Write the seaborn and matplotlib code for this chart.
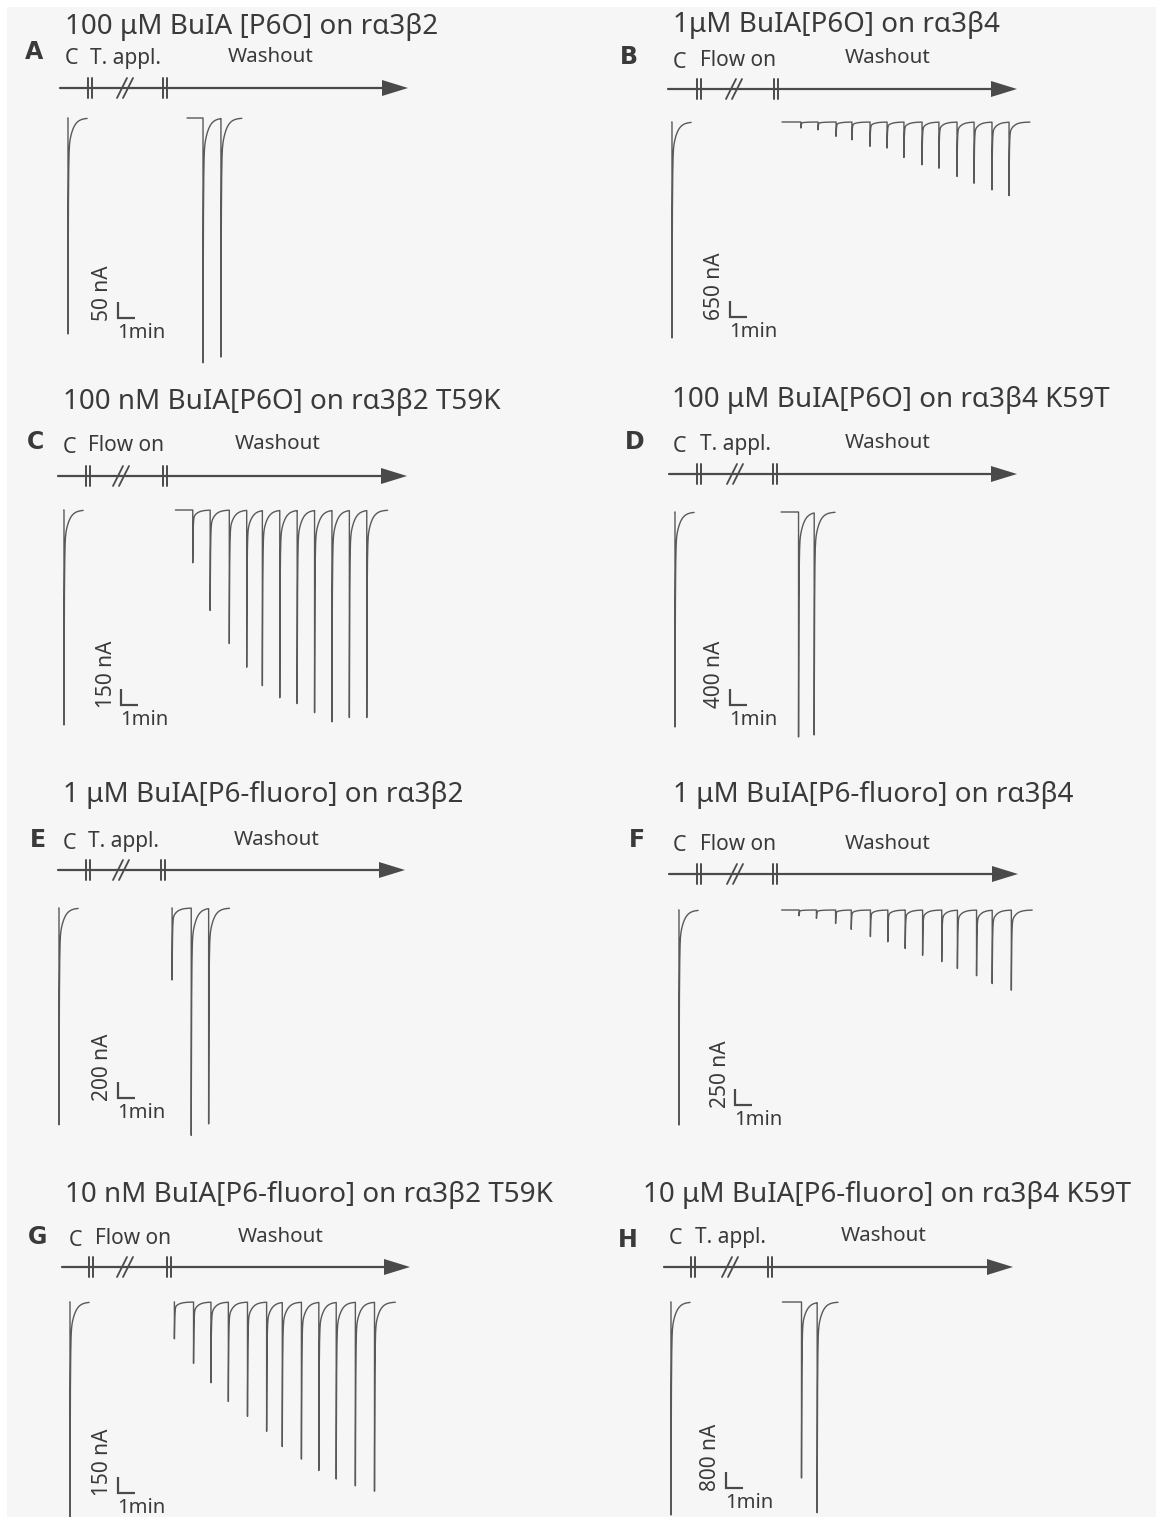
import numpy as np
import pandas as pd
import matplotlib
matplotlib.use("Agg")
import matplotlib.pyplot as plt
import seaborn as sns
from matplotlib.patches import Polygon, Rectangle

sns.set_theme(style="white")
plt.rcParams['font.family'] = ['Noto Sans', 'DejaVu Sans']

# ---------------- data ----------------
panel_letters = ['A', 'B', 'C', 'D', 'E', 'F', 'G', 'H']
titles = [
    "100 μM BuIA [P6O] on rα3β2",
    "1μM BuIA[P6O] on rα3β4",
    "100 nM BuIA[P6O] on rα3β2 T59K",
    "100 μM BuIA[P6O] on rα3β4 K59T",
    "1 μM BuIA[P6-fluoro] on rα3β2",
    "1 μM BuIA[P6-fluoro] on rα3β4",
    "10 nM BuIA[P6-fluoro] on rα3β2 T59K",
    "10 μM BuIA[P6-fluoro] on rα3β4 K59T",
]
protocol_labels = ['T. appl.', 'Flow on', 'Flow on', 'T. appl.',
                   'T. appl.', 'Flow on', 'Flow on', 'T. appl.']
scale_nA = [50, 650, 150, 400, 200, 250, 150, 800]
scale_min = [1, 1, 1, 1, 1, 1, 1, 1]

# control response (nA) at t = 0 min
control_nA = [675, 8775, 2015, 5375, 2710, 3360, 2015, 10650]
# start of washout recording (min)
washout_start = [6.84, 6.32, 6.4, 6.1, 6.49, 5.9, 5.99, 6.4]

wash_t_A = [7.76, 8.79]
wash_i_A = [765, 745]
wash_t_B = [7.41, 8.39, 9.43, 10.34, 11.38, 12.36, 13.33, 14.37, 15.34, 16.38, 17.36, 18.39, 19.37]
wash_i_B = [245, 315, 580, 720, 985, 1055, 1435, 1735, 1870, 2205, 2480, 2750, 2980]
wash_t_C = [7.4, 8.4, 9.5, 10.5, 11.4, 12.4, 13.4, 14.4, 15.4, 16.4, 17.4]
wash_i_C = [495, 940, 1250, 1470, 1640, 1755, 1810, 1895, 1980, 1940, 1940]
wash_t_D = [7.1, 8.0]
wash_i_D = [5625, 5550]
wash_t_E = [6.5, 7.6, 8.6]
wash_i_E = [900, 2840, 2690]
wash_t_F = [6.9, 7.9, 9.0, 9.9, 11.0, 12.0, 13.0, 14.0, 15.1, 16.0, 17.1, 18.0, 19.1]
wash_i_F = [90, 130, 210, 300, 415, 495, 600, 705, 805, 910, 1025, 1145, 1250]
wash_t_G = [6.0, 7.1, 8.1, 9.1, 10.2, 11.3, 12.2, 13.3, 14.3, 15.3, 16.4, 17.5]
wash_i_G = [345, 575, 755, 930, 1070, 1210, 1350, 1470, 1575, 1655, 1720, 1770]
wash_t_H = [7.5, 8.4]
wash_i_H = [8800, 10500]

wash_times = [wash_t_A, wash_t_B, wash_t_C, wash_t_D, wash_t_E, wash_t_F, wash_t_G, wash_t_H]
wash_amps = [wash_i_A, wash_i_B, wash_i_C, wash_i_D, wash_i_E, wash_i_F, wash_i_G, wash_i_H]

# ---------------- layout (pixels) ----------------
W, H = 1156, 1517
BG = '#f6f6f6'
TXT = '#3a3a3a'
LC = '#4a4a4a'
TRC = '#595959'
PPM = 17.4      # pixels per minute
SB_PX = 16.0    # pixels of the vertical scale bar

layout = [
    dict(title=(65, 27), letter=(34, 52), c=(71, 58), pl=(90, 58), wo=(271, 57),
         ly=88, x0=60, tip=408, t1=90, sl=125, t2=165, by=118, cx=68, sb=(118, 318)),
    dict(title=(673, 25), letter=(629, 57), c=(680, 62), pl=(700, 60), wo=(888, 58),
         ly=89, x0=668, tip=1017, t1=699, sl=734, t2=776, by=122, cx=672, sb=(730, 317)),
    dict(title=(63, 402), letter=(35, 442), c=(70, 447), pl=(88, 445), wo=(278, 444),
         ly=476, x0=58, tip=407, t1=88, sl=121, t2=165, by=510, cx=64, sb=(121, 705)),
    dict(title=(672, 400), letter=(635, 442), c=(680, 446), pl=(700, 444), wo=(888, 443),
         ly=474, x0=669, tip=1017, t1=699, sl=735, t2=775, by=512, cx=675, sb=(730, 705)),
    dict(title=(63, 795), letter=(38, 840), c=(70, 843), pl=(88, 841), wo=(277, 840),
         ly=870, x0=58, tip=405, t1=88, sl=121, t2=163, by=908, cx=59, sb=(118, 1098)),
    dict(title=(673, 795), letter=(637, 840), c=(680, 845), pl=(700, 844), wo=(888, 844),
         ly=874, x0=669, tip=1018, t1=699, sl=735, t2=775, by=910, cx=679, sb=(735, 1105)),
    dict(title=(65, 1195), letter=(38, 1237), c=(75, 1240), pl=(95, 1238), wo=(281, 1237),
         ly=1267, x0=62, tip=410, t1=91, sl=125, t2=169, by=1302, cx=70, sb=(118, 1493)),
    dict(title=(643, 1195), letter=(628, 1240), c=(676, 1238), pl=(695, 1237), wo=(884, 1236),
         ly=1267, x0=664, tip=1013, t1=693, sl=730, t2=770, by=1302, cx=671, sb=(726, 1488)),
]


def response(t, t0, amp):
    dt = t - t0
    out = np.zeros_like(t)
    m = dt >= 0
    out[m] = -amp * (0.84 * np.exp(-dt[m] / 0.02) + 0.16 * np.exp(-dt[m] / 0.25))
    return out


def time_grid(start, stop, onsets):
    g = np.arange(start, stop, 0.002)
    on = np.asarray(onsets, dtype=float)
    return np.unique(np.concatenate([g, on, on - 0.0005]))


fig = plt.figure(figsize=(W / 100, H / 100), dpi=100)
fig.patch.set_facecolor('white')
ov = fig.add_axes([0, 0, 1, 1])
ov.set_xlim(0, W)
ov.set_ylim(H, 0)
ov.axis('off')
ov.add_patch(Rectangle((7, 7), W, H, color=BG, zorder=0, lw=0))


def protocol(L):
    y = L['ly']
    ov.plot([L['x0'], L['tip'] - 20], [y, y], color=LC, lw=1.6, zorder=2)
    ov.add_patch(Polygon([[L['tip'] - 26, y - 8], [L['tip'], y], [L['tip'] - 26, y + 8]],
                         closed=True, color=LC, lw=0, zorder=2))
    for xc in (L['t1'], L['t2']):
        for dx in (-2.2, 2.2):
            ov.plot([xc + dx, xc + dx], [y - 10, y + 10], color=LC, lw=1.4, zorder=2)
    for dx in (-3.0, 3.0):
        ov.plot([L['sl'] + dx - 5, L['sl'] + dx + 5], [y + 10, y - 10], color=LC, lw=1.3, zorder=2)


for p in range(8):
    L = layout[p]
    # texts
    ov.text(L['title'][0], L['title'][1], titles[p], fontsize=20, color=TXT,
            ha='left', va='center')
    ov.text(L['letter'][0], L['letter'][1], panel_letters[p], fontsize=17, color=TXT,
            fontweight='bold', family=['DejaVu Sans'], ha='center', va='center')
    ov.text(L['c'][0], L['c'][1], 'C', fontsize=15.5, color=TXT, ha='center', va='center')
    ov.text(L['pl'][0], L['pl'][1], protocol_labels[p], fontsize=15, color=TXT,
            ha='left', va='center')
    ov.text(L['wo'][0], L['wo'][1], 'Washout', fontsize=14.8, color=TXT,
            ha='center', va='center')
    protocol(L)

    # trace axes: x in minutes, y in nA
    ppn = SB_PX / scale_nA[p]
    xl = (-1.5, 22.0)
    top_px, bot_px = 25, 270
    left = L['cx'] + xl[0] * PPM
    width = (xl[1] - xl[0]) * PPM
    top = L['by'] - top_px
    height = top_px + bot_px
    ax = fig.add_axes([left / W, 1 - (top + height) / H, width / W, height / H])
    ax.set_xlim(*xl)
    ax.set_ylim(-bot_px / ppn, top_px / ppn)
    ax.axis('off')
    ax.patch.set_alpha(0)
    ax.set_zorder(3)

    t_ctrl = time_grid(-0.01, 1.1, [0.0])
    i_ctrl = response(t_ctrl, 0.0, control_nA[p])
    t_w = time_grid(washout_start[p], wash_times[p][-1] + 1.2, wash_times[p])
    t_w = t_w[t_w >= washout_start[p] - 1e-9]
    i_w = np.zeros_like(t_w)
    for t0, a in zip(wash_times[p], wash_amps[p]):
        i_w += response(t_w, t0, a)
    df = pd.concat([
        pd.DataFrame({'t': t_ctrl, 'I': i_ctrl, 'seg': 'control'}),
        pd.DataFrame({'t': t_w, 'I': i_w, 'seg': 'washout'}),
    ], ignore_index=True)
    sns.lineplot(data=df, x='t', y='I', units='seg', estimator=None, sort=False,
                 color=TRC, lw=1.0, ax=ax, legend=False)
    ax.axis('off')

    # scale bar
    sx, sy = L['sb']
    tsb = (sx - L['cx']) / PPM
    isb = -(sy - L['by']) / ppn
    ax.plot([tsb, tsb, tsb + scale_min[p]], [isb + scale_nA[p], isb, isb],
            color=LC, lw=1.6, solid_joinstyle='miter', solid_capstyle='butt')
    ov.text(sx - 15, sy + 3, f"{scale_nA[p]} nA", fontsize=15, color=TXT,
            rotation=90, rotation_mode='anchor', ha='left', va='center')
    ov.text(sx - 1, sy + 15, f"{scale_min[p]}min", fontsize=14.5, color=TXT,
            ha='left', va='center')

fig.savefig('out.png', dpi=100, facecolor='white')
